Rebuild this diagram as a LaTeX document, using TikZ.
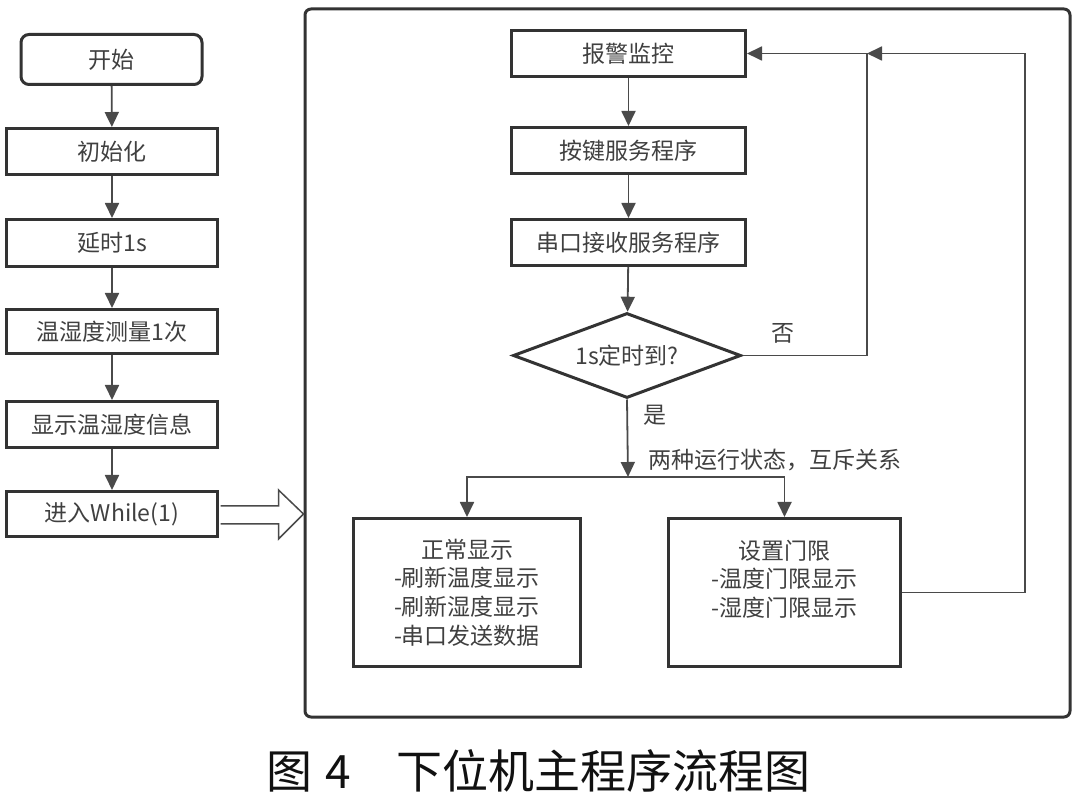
\documentclass[tikz,border=0pt]{standalone}
\usepackage{fontspec}
\setmainfont{Noto Sans CJK SC}
\usetikzlibrary{shapes.geometric,arrows.meta,calc}
\definecolor{boxc}{HTML}{333333}
\definecolor{linec}{HTML}{4a4a4a}
\definecolor{txtc}{HTML}{404040}
\definecolor{capc}{HTML}{111111}
\begin{document}
\begin{tikzpicture}[x=1pt,y=-1pt,
  box/.style={draw=boxc,line width=3pt,fill=white,text=txtc,inner sep=0pt,
    font=\fontsize{23}{28.7}\selectfont},
  conn/.style={draw=linec,line width=1.8pt},
  arr/.style={conn,-{Triangle[length=15pt,width=14pt]}},
  lbl/.style={text=txtc,font=\fontsize{23}{28}\selectfont,inner sep=0pt}]
\useasboundingbox (0,0) rectangle (1080,799);
% outer frame
\node[draw=boxc,line width=3pt,rounded corners=6pt,minimum width=765,minimum height=708,inner sep=0pt] (frame) at (687.5,363) {};
% left column
\node[box,rounded corners=8pt,minimum width=181,minimum height=50] (start) at (111.5,59.5) {开始};
\node[box,minimum width=211,minimum height=46] (init) at (112,151.5) {初始化};
\node[box,minimum width=211,minimum height=47] (delay) at (112,243) {延时1s};
\node[box,minimum width=211,minimum height=44] (meas) at (112,331.5) {温湿度测量1次};
\node[box,minimum width=211,minimum height=46] (disp) at (112,424.5) {显示温湿度信息};
\node[box,minimum width=211,minimum height=45] (while) at (112,514) {进入While(1)};
\draw[arr] (start) -- (init);
\draw[arr] (init) -- (delay);
\draw[arr] (delay) -- (meas);
\draw[arr] (meas) -- (disp);
\draw[arr] (disp) -- (while);
% hollow arrow into the main loop
\coordinate (tip) at (frame.west |- while);
\draw[draw=linec,line width=1.5pt,fill=white,line join=miter]
  ($(while.east)+(1.5,-8)$) -- ($(tip)+(-25,-8)$) -- ($(tip)+(-25,-24)$) -- (tip)
  -- ($(tip)+(-25,25)$) -- ($(tip)+(-25,10)$) -- ($(while.east)+(1.5,10)$);
% right column
\node[box,minimum width=234,minimum height=46] (alarm) at (628.5,53.5) {报警监控};
\node[box,minimum width=234,minimum height=46] (key) at (628.5,150.5) {按键服务程序};
\node[box,minimum width=234,minimum height=46] (uart) at (628.5,242.5) {串口接收服务程序};
\node[box,diamond,shape aspect=2.64,minimum width=228,minimum height=85] (dia) at (627,355.5) {1s定时到?};
\node[box,align=center,minimum width=227,minimum height=148] (normal) at (467,592.5)
  {正常显示\\-刷新温度显示\\-刷新湿度显示\\-串口发送数据};
\node[box,align=center,minimum width=232,minimum height=148] (setlim) at (784.5,592.5)
  {设置门限\\-温度门限显示\\-湿度门限显示\\\mbox{}};
\coordinate (junc) at (867,53.5);
\coordinate (rc) at (1025,53.5);
\coordinate (split) at (628,477);
\draw[arr] (alarm) -- (key);
\draw[arr] (key) -- (uart);
\draw[arr] (uart) -- (dia);
\draw[arr] (dia.east) -| (junc) -- (alarm.east);
\draw[arr] (setlim.east) -| (rc) -- (junc);
\draw[arr] (split) -| (normal.north);
\draw[arr] (split) -| (setlim.north);
\draw[arr] (dia.south) -- (split);
% labels
\node[lbl] (no) at (783,333) {否};
\node[lbl] (yes) at (655,415) {是};
\node[lbl] (two) at (775,460) {两种运行状态，互斥关系};
% caption
\node[anchor=west,text=capc,inner sep=0pt,font=\fontsize{46}{46}\selectfont] (cap) at (266,771)
  {图\hspace{13pt}4\hspace{46pt}下位机主程序流程图};
\end{tikzpicture}
\end{document}
